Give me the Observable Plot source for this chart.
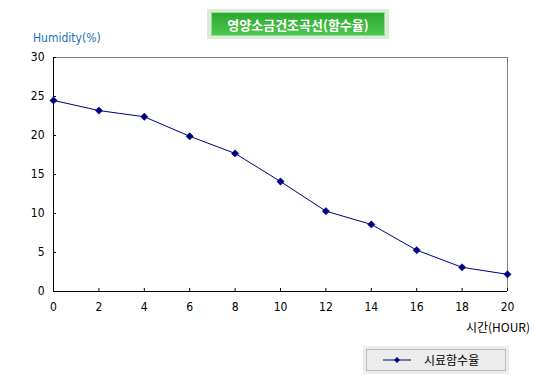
<!DOCTYPE html>
<html><head><meta charset="utf-8">
<script src="https://cdn.jsdelivr.net/npm/d3@7"></script>
<script src="https://cdn.jsdelivr.net/npm/@observablehq/plot@0.6"></script>
<style>
body{margin:0;background:#fff;font-family:"Noto Sans CJK KR","DejaVu Sans",sans-serif;}
#wrap{position:relative;width:538px;height:383px;overflow:hidden;}
#chart{position:absolute;left:0;top:0;}
.title{position:absolute;left:207px;top:9px;width:182px;height:30px;background:#d8ecd8;box-sizing:border-box;}
.title .in{position:absolute;left:4px;top:3px;right:4px;bottom:3px;background:linear-gradient(#2fa82f,#4cc64c);color:#fff;font-weight:bold;font-size:13px;line-height:24px;text-align:center;border:1px solid #9fd89f;box-sizing:border-box;}
.ylab{position:absolute;left:33px;top:31px;font-size:12px;color:#1a6fb5;font-family:"DejaVu Sans Condensed","DejaVu Sans",sans-serif;}
.xlab{position:absolute;right:8px;top:318px;font-size:12px;color:#000;font-family:"Noto Sans CJK KR",sans-serif;}
.legend{position:absolute;left:363px;top:346px;width:146px;height:28px;background:#ececec;box-sizing:border-box;}
.legend .in{position:absolute;left:3px;top:3px;width:140px;height:22px;border:1px solid #bdbdbd;box-sizing:border-box;}
.legend .txt{position:absolute;left:57px;top:2px;font-size:12px;line-height:16px;}
</style></head>
<body><div id="wrap">
<div id="chart"></div>
<div class="title"><div class="in">영양소금건조곡선(함수율)</div></div>
<div class="ylab">Humidity(%)</div>
<div class="xlab">시간(HOUR)</div>
<div class="legend"><div class="in"><svg width="50" height="20" style="position:absolute;left:10px;top:0"></svg><div class="txt">시료함수율</div></div></div>
</div>
<script>
const hours = [0,2,4,6,8,10,12,14,16,18,20];
const humidity = [24.5,23.2,22.4,19.9,17.7,14.1,10.3,8.6,5.3,3.1,2.2];
const xTicks = [0,2,4,6,8,10,12,14,16,18,20];
const yTicks = [0,5,10,15,20,25,30];
const seriesName = "시료함수율";

const data = hours.map((h,i)=>({hour:h, value:humidity[i]}));
const navy = "#000080";

const chart = Plot.plot({
  width:538, height:383,
  marginLeft:53, marginRight:31, marginTop:57, marginBottom:92,
  style:{fontFamily:"'DejaVu Sans Condensed','DejaVu Sans',sans-serif", fontSize:"12px", color:"#000", background:"transparent"},
  x:{domain:[0,20], ticks:xTicks, label:null},
  y:{domain:[0,30], ticks:yTicks, label:null},
  marks:[
    Plot.ruleY([30],{stroke:"#808080"}),
    Plot.ruleX([20],{stroke:"#808080"}),
    Plot.ruleX([0],{stroke:"#000"}),
    Plot.ruleY([0],{stroke:"#000"}),
    Plot.axisX({ticks:xTicks, tickSize:-3, tickPadding:14, label:null, stroke:"#000"}),
    Plot.axisY({ticks:yTicks, tickSize:-3, tickPadding:12, label:null, stroke:"#000"}),
    Plot.line(data,{x:"hour", y:"value", stroke:navy, strokeWidth:1}),
    Plot.dot(data,{x:"hour", y:"value", symbol:"diamond2", r:3.3, fill:navy, stroke:navy, strokeWidth:0.5})
  ]
});
document.getElementById("chart").appendChild(chart);

// legend swatch
const sw = d3.select(".legend svg");
sw.append("line").attr("x1",6).attr("x2",34).attr("y1",10).attr("y2",10).attr("stroke",navy).attr("stroke-width",1);
sw.append("path").attr("d",d3.symbol(d3.symbolDiamond2,22)()).attr("transform","translate(20,10)").attr("fill",navy);
</script>
</body></html>
